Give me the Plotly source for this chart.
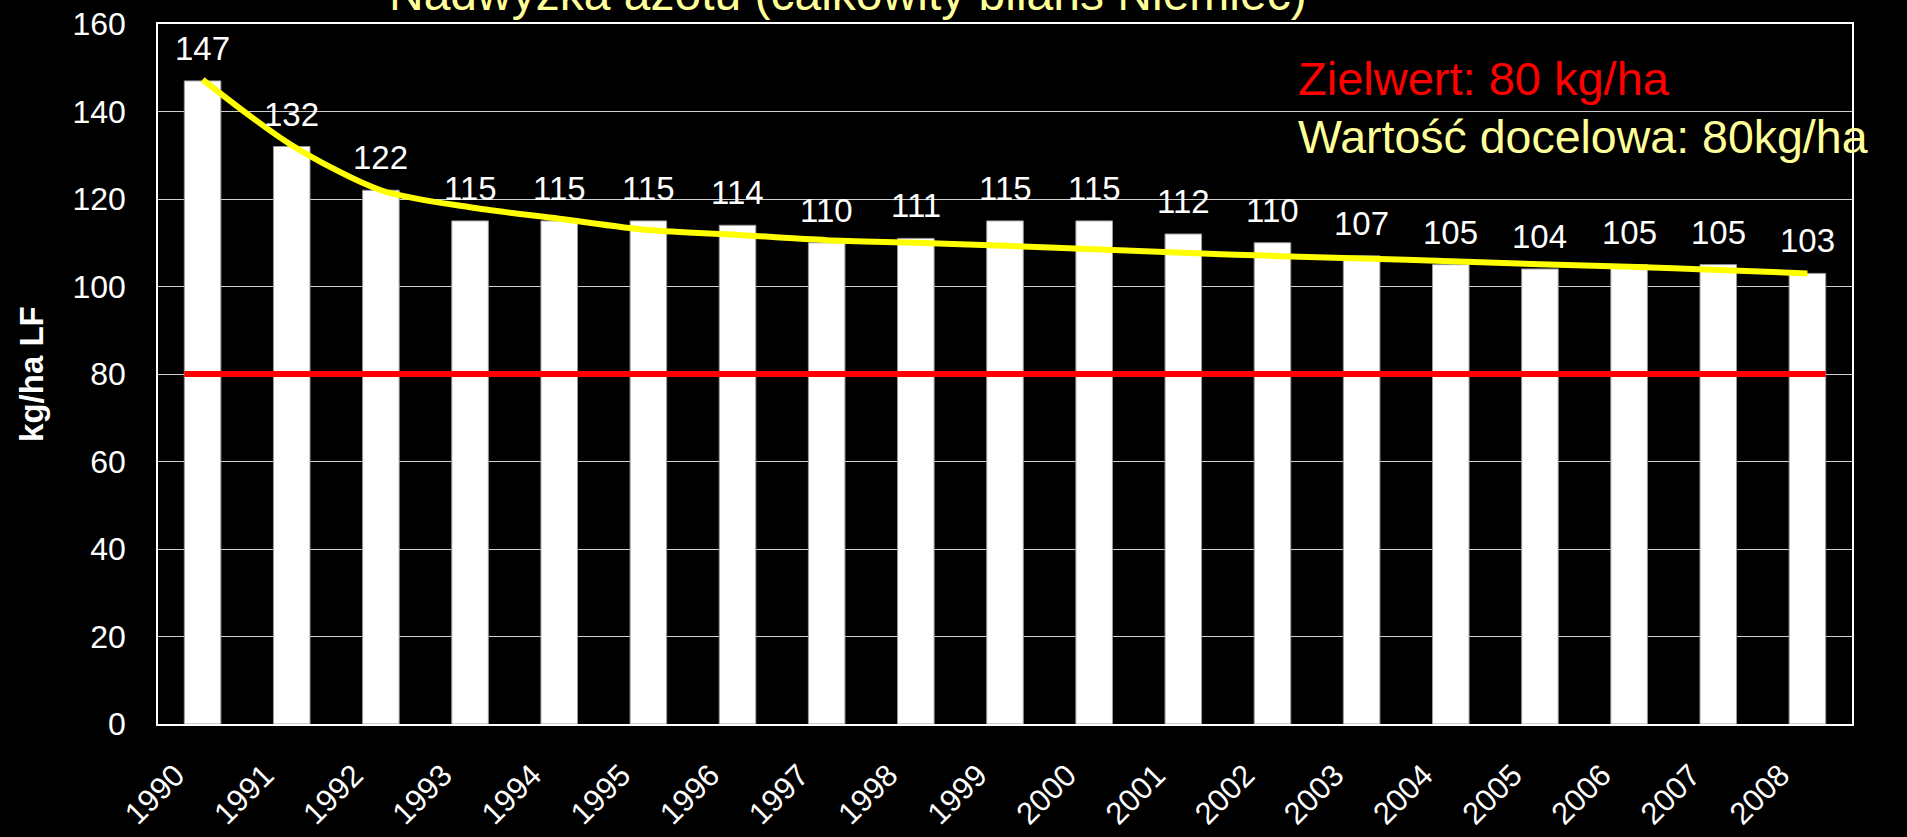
import plotly.graph_objects as go

# ---- data ----
years = list(range(1990, 2009))
surplus = [147, 132, 122, 115, 115, 115, 114, 110, 111, 115, 115, 112, 110, 107, 105, 104, 105, 105, 103]
trend = [147.3, 132.3, 122.0, 118.1, 115.5, 112.9, 111.8, 110.6, 110.0, 109.3, 108.5, 107.7,
         107.0, 106.4, 105.8, 105.1, 104.5, 103.8, 103.0]
target = 80
y_ticks = [0, 20, 40, 60, 80, 100, 120, 140, 160]
year_labels = [str(y) for y in years]
title_text = "Nadwyżka azotu (całkowity bilans Niemiec)"
target_de = "Zielwert: 80 kg/ha"
target_pl = "Wartość docelowa: 80kg/ha"
y_title = "kg/ha LF"

# ---- style ----
FONT = "Arial, Liberation Sans, sans-serif"
BAR_W = 0.41
W, H = 1907, 837
ML, MR, MT, MB = 158, 55, 24, 113

fig = go.Figure()

fig.add_trace(go.Bar(
    x=years, y=surplus, width=BAR_W,
    marker=dict(color="#ffffff", line=dict(color="#9a9a9a", width=1)),
    hoverinfo="x+y", showlegend=False,
))

fig.add_trace(go.Scatter(
    x=[years[0] - BAR_W / 2, years[-1] + BAR_W / 2], y=[target, target],
    mode="lines", line=dict(color="#ff0000", width=6), showlegend=False,
))

fig.add_trace(go.Scatter(
    x=years, y=trend, mode="lines",
    line=dict(color="#ffff00", width=6, shape="spline", smoothing=0.8),
    showlegend=False,
))

# value labels above bars
for yr, v in zip(years, surplus):
    fig.add_annotation(x=yr, y=v, xref="x", yref="y", text=str(v), showarrow=False,
                       yanchor="bottom", yshift=12,
                       font=dict(family=FONT, size=33, color="#ffffff"))

# title (partly cut at top like the reference)
fig.add_annotation(x=0.4073, y=1.044, xref="paper", yref="paper", text=title_text,
                   showarrow=False, xanchor="center", yanchor="middle",
                   font=dict(family=FONT, size=48, color="#ffff99"))

# target texts
fig.add_annotation(x=0.672, y=0.9225, xref="paper", yref="paper", text=target_de,
                   showarrow=False, xanchor="left", yanchor="middle",
                   font=dict(family=FONT, size=47, color="#ff0000"))
fig.add_annotation(x=0.672, y=0.839, xref="paper", yref="paper", text=target_pl,
                   showarrow=False, xanchor="left", yanchor="middle",
                   font=dict(family=FONT, size=46.5, color="#ffff99"))

# y axis title
fig.add_annotation(x=-0.075, y=0.5, xref="paper", yref="paper", text="<b>" + y_title + "</b>",
                   showarrow=False, textangle=-90, xanchor="center", yanchor="middle",
                   font=dict(family=FONT, size=33, color="#ffffff"))

fig.update_layout(
    width=W, height=H,
    margin=dict(l=ML, r=MR, t=MT, b=MB, autoexpand=False),
    paper_bgcolor="#000000", plot_bgcolor="#000000",
    font=dict(family=FONT, color="#ffffff"),
    bargap=0.59,
)

fig.update_xaxes(
    range=[years[0] - 0.5, years[-1] + 0.5],
    tickvals=years, ticktext=year_labels, tickangle=-45,
    tickfont=dict(family=FONT, size=31, color="#ffffff"),
    showgrid=False, zeroline=False,
    showline=True, linecolor="#ffffff", linewidth=1.5, mirror=True,
    ticks="outside", ticklen=19, tickcolor="rgba(0,0,0,0)",
    ticklabelshift=-27,
    fixedrange=True,
)
fig.update_yaxes(
    range=[0, 160], tickvals=y_ticks,
    tickfont=dict(family=FONT, size=32, color="#ffffff"),
    showgrid=True, gridcolor="#d0d0d0", gridwidth=1, zeroline=False,
    showline=True, linecolor="#ffffff", linewidth=1.5, mirror=True,
    ticks="", ticklabelstandoff=24,
    fixedrange=True,
)

fig.write_html("out.html", config={"displayModeBar": False},
               post_script="document.body.style.margin='0';document.body.style.overflow='hidden';")
